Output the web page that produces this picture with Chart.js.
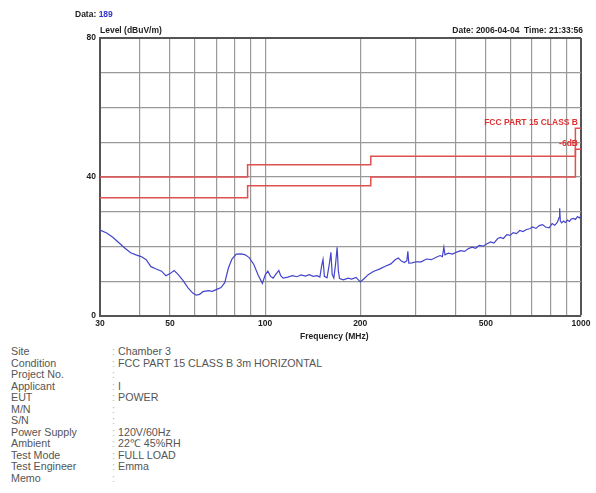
<!DOCTYPE html>
<html lang="en">

<head>
    <meta charset="UTF-8">
    <title>Radiated Emission - Chamber 3</title>
    <style>
        body { margin: 0; background: #fff; font-family: "Liberation Sans", Arial, sans-serif; }
        #wrap { position: relative; width: 596px; height: 493px; overflow: hidden; }
        #myChart { position: absolute; left: 0; top: 0; }
        .hd { position: absolute; font-size: 8.5px; font-weight: bold; color: #222; white-space: nowrap; }
        #info { position: absolute; left: 11px; top: 346px; font-size: 10.7px; color: #555; line-height: 11.5px; }
        #info div { white-space: nowrap; }
        #info span { display: inline-block; width: 101px; }
        #info i { font-style: normal; display: inline-block; width: 6px; color: #bbb; }
    </style>
</head>

<body>
    <div id="wrap">
        <canvas id="myChart" width="596" height="340"></canvas>
        <div class="hd" style="left:75px; top:9px;">Data: <span style="color:#3333cc">189</span></div>
        <div class="hd" style="left:100px; top:25px;">Level (dBuV/m)</div>
        <div class="hd" style="right:13px; top:25px;">Date: 2006-04-04 &nbsp;Time: 21:33:56</div>
        <div class="hd" style="left:300px; top:331px;">Frequency (MHz)</div>
        <div id="info"></div>
    </div>

    <script src="https://cdn.jsdelivr.net/npm/chart.js"></script>
    <script>
        // measured level, frequency in MHz / level in dBuV/m
        const freqs = [30, 31.5, 33, 34.5, 36, 37.5, 39, 40.5, 42, 43.5, 45, 47, 48.5, 50, 51.5, 53, 55, 57, 59, 60.5,
            62, 63.5, 66, 68, 70, 72.5, 74.5, 76.5, 78.5, 81, 84, 86.5, 89, 92, 95, 98, 100, 102, 104, 106,
            108, 110.5, 112, 114, 118, 122, 126, 130, 134, 138, 142, 146, 149, 151, 152.5, 154, 157, 160, 161.5, 163,
            165, 167, 169, 170.5, 172, 177, 183, 188, 194, 200, 206, 212, 220, 230, 240, 250, 258, 264, 270, 276,
            281, 283, 285, 292, 300, 312, 324, 336, 348, 358, 364, 368, 371, 380, 392, 404, 416, 428, 440, 452,
            464, 476, 490, 504, 518, 530, 545, 556, 568, 582, 596, 610, 625, 640, 655, 672, 688, 703, 720, 738,
            755, 772, 793, 810, 826, 842, 852, 856, 860, 868, 880, 893, 906, 918, 932, 946, 960, 975, 988, 1000];
        const levels = [24.7, 23.9, 22.6, 21.0, 19.5, 18.2, 17.6, 17.1, 16.2, 14.2, 13.6, 12.9, 11.6, 12.2, 13.1, 12.0, 10.2, 8.1, 6.6, 6.0,
            6.2, 7.0, 7.3, 7.1, 7.6, 8.2, 9.6, 13.8, 16.4, 17.8, 17.9, 17.6, 16.8, 14.9, 11.8, 9.4, 11.8, 12.9, 11.4, 10.9,
            12.0, 13.1, 11.6, 10.9, 11.2, 11.6, 11.3, 11.8, 11.5, 11.9, 11.4, 11.6, 11.2, 14.5, 16.3, 11.4, 11.0, 15.5, 18.3, 12.0,
            10.9, 14.8, 19.8, 13.0, 10.8, 10.4, 10.9, 10.6, 11.1, 9.8, 10.8, 11.9, 12.8, 13.5, 14.3, 15.0, 16.2, 16.7, 15.8, 15.4,
            15.9, 18.6, 15.2, 15.3, 15.6, 15.6, 16.4, 16.2, 16.9, 17.4, 17.1, 19.8, 17.6, 18.1, 17.8, 18.4, 18.8, 18.6, 19.4, 19.8,
            19.5, 20.3, 20.1, 20.8, 21.3, 21.0, 22.3, 22.6, 22.3, 23.4, 23.2, 24.0, 23.7, 24.6, 24.3, 24.9, 25.1, 25.6, 25.2, 26.0,
            26.3, 25.6, 25.4, 26.6, 26.1, 27.0, 28.3, 31.0, 27.4, 26.8, 27.3, 26.9, 27.6, 27.2, 27.9, 28.1, 27.8, 28.6, 28.2, 28.7];

        // FCC part 15 class B limit (3m) and the -6dB margin line
        const limitFreq = [30, 88, 216, 960, 1000];
        const limitLevel = [40, 43.5, 46, 54, 54];
        const marginLevel = [34, 37.5, 40, 48, 48];

        const xGrid = [30, 40, 50, 60, 70, 80, 90, 100, 200, 300, 400, 500, 600, 700, 800, 900, 1000];
        const xLabels = [30, 50, 100, 200, 500, 1000];
        const yLabels = [0, 40, 80];

        const infoNames = ["Site", "Condition", "Project No.", "Applicant", "EUT", "M/N", "S/N",
            "Power Supply", "Ambient", "Test Mode", "Test Engineer", "Memo"];
        const infoValues = ["Chamber 3", "FCC PART 15 CLASS B 3m HORIZONTAL", "", "I", "POWER", "", "",
            "120V/60Hz", "22\u2103 45%RH", "FULL LOAD", "Emma", ""];

        const info = document.getElementById("info");
        infoNames.forEach((n, i) => {
            const row = document.createElement("div");
            row.innerHTML = "<span>" + n + "</span><i>:</i>" + infoValues[i];
            info.appendChild(row);
        });

        const toPoints = (xs, ys) => xs.map((x, i) => ({ x: x, y: ys[i] }));

        // red captions next to the limit lines
        const limitText = {
            id: "limitText",
            afterDatasetsDraw(chart) {
                const c = chart.ctx;
                const y = chart.scales.y;
                const right = chart.chartArea.right - 3;
                c.save();
                c.fillStyle = "#e03030";
                c.font = "bold 8.5px 'Liberation Sans', Arial";
                c.textAlign = "right";
                c.textBaseline = "middle";
                c.fillText("FCC PART 15 CLASS B", right, y.getPixelForValue(55.5));
                c.fillText("-6dB", right, y.getPixelForValue(49.5));
                c.restore();
            }
        };

        const gridCol = "#999";
        const edgeCol = "#555";

        let ctx = document.getElementById("myChart").getContext("2d");
        let myChart = new Chart(ctx, {
            type: "line",
            data: {
                datasets: [{
                    data: toPoints(freqs, levels),
                    borderColor: "#4444cc",
                    borderWidth: 1.2,
                    pointRadius: 0,
                    tension: 0
                }, {
                    data: toPoints(limitFreq, limitLevel),
                    borderColor: "#e05050",
                    borderWidth: 1.5,
                    pointRadius: 0,
                    stepped: "before"
                }, {
                    data: toPoints(limitFreq, marginLevel),
                    borderColor: "#e05050",
                    borderWidth: 1.5,
                    pointRadius: 0,
                    stepped: "before"
                }]
            },
            options: {
                responsive: false,
                animation: false,
                devicePixelRatio: 1,
                layout: { padding: { left: 0, top: 38, right: 15, bottom: 0 } },
                plugins: { legend: { display: false }, tooltip: { enabled: false } },
                scales: {
                    x: {
                        type: "logarithmic",
                        min: 30,
                        max: 1000,
                        afterBuildTicks: s => { s.ticks = xGrid.map(v => ({ value: v })); },
                        afterFit: s => { s.height = 24; },
                        ticks: {
                            autoSkip: false,
                            maxRotation: 0,
                            padding: 3,
                            color: "#222",
                            font: { size: 8.5, weight: "bold", family: "'Liberation Sans', Arial" },
                            callback: v => xLabels.includes(v) ? String(v) : ""
                        },
                        grid: {
                            drawTicks: false,
                            color: c => c.tick && c.tick.value === 1000 ? edgeCol : gridCol,
                            lineWidth: c => c.tick && c.tick.value === 1000 ? 2 : 1.2
                        },
                        border: { color: edgeCol, width: 2 }
                    },
                    y: {
                        min: 0,
                        max: 80,
                        afterBuildTicks: s => {
                            s.ticks = [0, 10, 20, 30, 40, 50, 60, 70, 80].map(v => ({ value: v }));
                        },
                        afterFit: s => { s.width = 100; },
                        ticks: {
                            padding: 4,
                            color: "#222",
                            font: { size: 8.5, weight: "bold", family: "'Liberation Sans', Arial" },
                            callback: v => yLabels.includes(v) ? String(v) : ""
                        },
                        grid: {
                            drawTicks: false,
                            color: c => c.tick && c.tick.value === 80 ? edgeCol : gridCol,
                            lineWidth: c => c.tick && c.tick.value === 80 ? 2 : 1.2
                        },
                        border: { color: edgeCol, width: 2 }
                    }
                }
            },
            plugins: [limitText]
        });
    </script>
</body>

</html>
